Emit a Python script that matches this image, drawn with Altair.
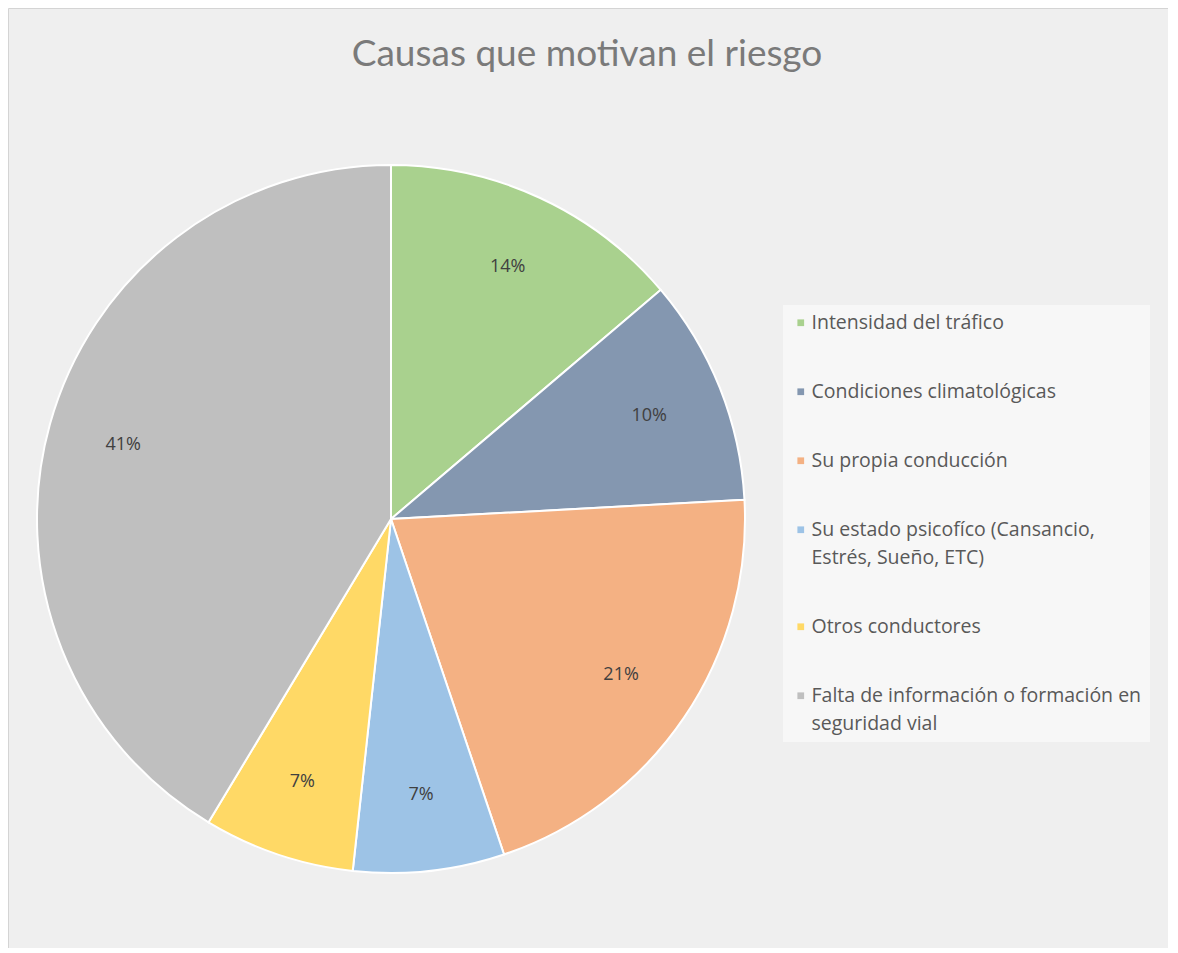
import altair as alt
import pandas as pd

categories = [
    "Intensidad del tráfico",
    "Condiciones climatológicas",
    "Su propia conducción",
    "Su estado psicofíco (Cansancio,|Estrés, Sueño, ETC)",
    "Otros conductores",
    "Falta de información o formación en|seguridad vial",
]
values = [4, 3, 6, 2, 2, 12]
pct_labels = ["14%", "10%", "21%", "7%", "7%", "41%"]
colors = ["#a9d18e", "#8497b0", "#f4b183", "#9dc3e6", "#ffd966", "#bfbfbf"]
title_text = "Causas que motivan el riesgo"

df = pd.DataFrame({
    "cat": categories,
    "value": values,
    "pct": pct_labels,
    "idx": list(range(len(categories))),
})

W, H = 1160, 940
CX, CY, R = 383, 511, 354

color = alt.Color(
    "cat:N",
    scale=alt.Scale(domain=categories, range=colors),
    sort=categories,
    legend=alt.Legend(
        title=None,
        orient="none",
        legendX=775,
        legendY=297,
        symbolType="square",
        symbolSize=45,
        symbolStrokeWidth=0,
        labelFont="Open Sans",
        labelFontSize=19.5,
        labelColor="#595959",
        labelLimit=440,
        labelExpr="split(datum.label, '|')",
        labelOffset=1,
        rowPadding=48,
        padding=8,
        fillColor="#f7f7f7",
        labelBaseline="middle",
    ),
)

base = alt.Chart(df)

pie = base.mark_arc(outerRadius=R, stroke="white", strokeWidth=2).encode(
    theta=alt.Theta("value:Q", stack=True),
    order=alt.Order("idx:Q"),
    color=color,
    x=alt.value(CX),
    y=alt.value(CY),
)

labels = base.mark_text(
    radius=278, font="Open Sans", fontSize=18, color="#404040"
).encode(
    theta=alt.Theta("value:Q", stack=True),
    order=alt.Order("idx:Q"),
    text="pct:N",
    x=alt.value(CX),
    y=alt.value(CY),
)

title = alt.Chart(pd.DataFrame({"t": [title_text]})).mark_text(
    font="Lato", fontSize=37, color="#7a7a7a"
).encode(
    text="t:N",
    x=alt.value(W / 2 - 1),
    y=alt.value(47),
)

chart = (
    alt.layer(pie, labels, title)
    .properties(width=W, height=H, padding=0, autosize=alt.AutoSizeParams(type="none"))
    .configure(background="#ffffff", style={"guide-label": {"lineHeight": 28}})
    .configure_view(fill="#efefef", stroke="#d4d4d4", strokeWidth=1)
)

chart.save("out.html", embed_options={"renderer": "svg", "actions": False})
